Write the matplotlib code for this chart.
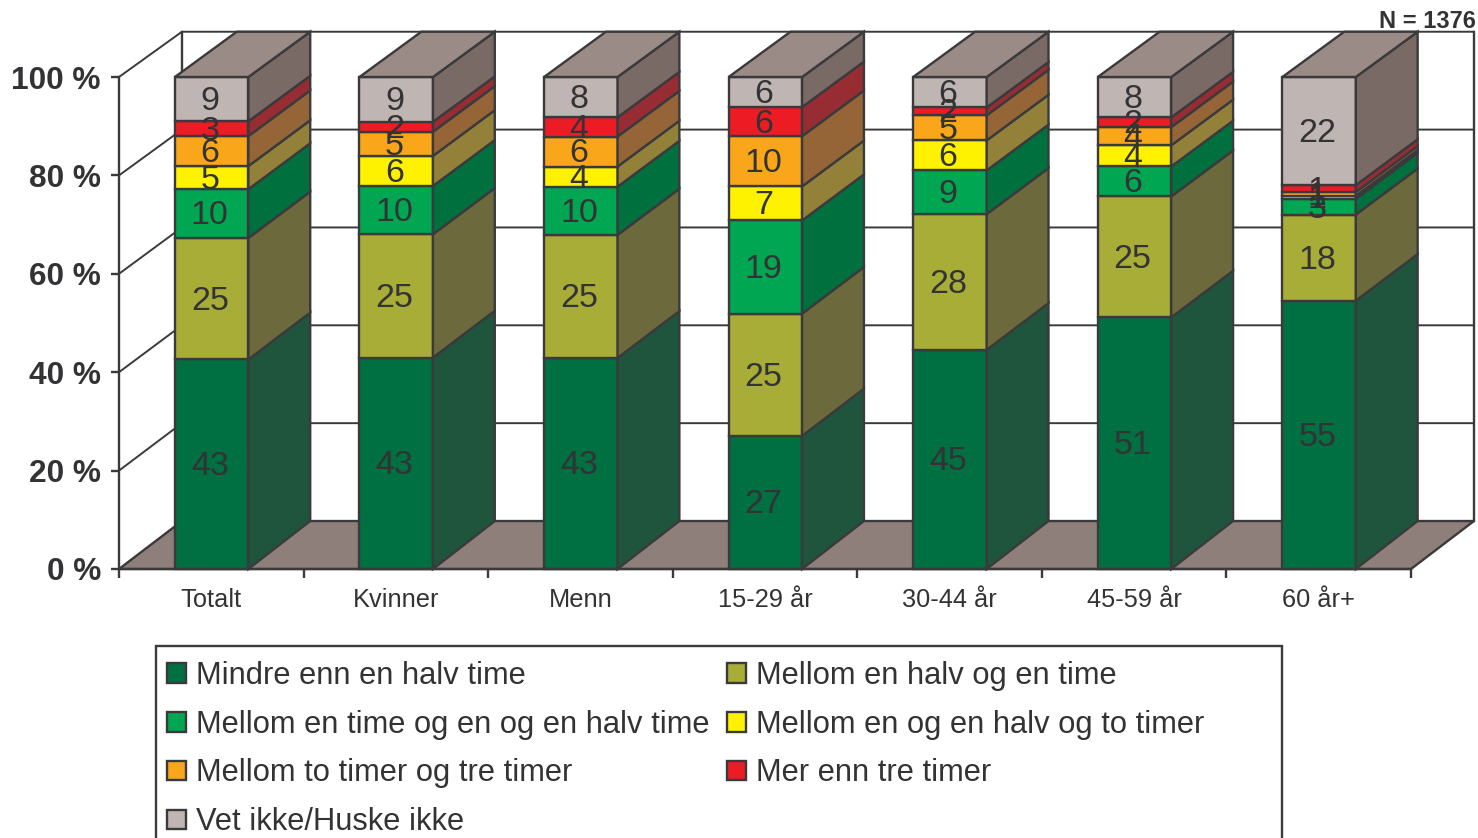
import matplotlib
matplotlib.use('Agg')
import matplotlib.pyplot as plt
from matplotlib.patches import Patch, Polygon, Rectangle
import numpy as np

plt.rcParams['font.family'] = ['Liberation Sans', 'DejaVu Sans']

categories = ['Totalt', 'Kvinner', 'Menn', '15-29 år', '30-44 år', '45-59 år', '60 år+']
series = ['Mindre enn en halv time', 'Mellom en halv og en time',
          'Mellom en time og en og en halv time', 'Mellom en og en halv og to timer',
          'Mellom to timer og tre timer', 'Mer enn tre timer', 'Vet ikke/Huske ikke']

# heights, the labels are these values rounded
under_halv = [42.6, 42.9, 42.9, 27.0, 44.6, 51.2, 54.6]
halv_en = [24.7, 25.0, 25.0, 24.8, 27.6, 24.6, 17.5]
en_halvannen = [9.9, 9.8, 9.8, 18.9, 8.9, 6.1, 3.2]
halvannen_to = [4.7, 6.1, 4.1, 6.9, 6.1, 4.3, 0.6]
to_tre = [6.1, 4.9, 6.1, 10.2, 5.1, 3.7, 0.8]
over_tre = [3.0, 2.0, 3.9, 5.9, 1.6, 2.0, 1.4]
vet_ikke = [9.0, 9.1, 8.2, 6.1, 6.2, 8.2, 22.0]
values = np.array([under_halv, halv_en, en_halvannen, halvannen_to, to_tre, over_tre, vet_ikke])

front_colors = ['#006F41', '#A8AD38', '#00A651', '#FFF200', '#FAA61A', '#ED1C24', '#BFB5B2']
side_colors = ['#20553D', '#6C693D', '#00703F', '#938139', '#956537', '#972D32', '#7A6A66']
top_color = '#9A8B86'
floor_color = '#8E7F7A'
line_color = '#3A3A3C'
text_color = '#333335'
lw = 1.7

# depth of the fake 3D box, in data units
dx = 0.341
bar_dx = 0.335
bar_w = 0.398
bar_left = 0.303


def depth(v):
    # back wall is a little shorter than the front
    return 9.75 - 0.0055*v


fig = plt.figure(figsize=(14.78, 8.38), dpi=100)
ax = fig.add_axes([119/1478, (838-569)/838, 1292/1478, 492/838])
ax.set_xlim(0, 7)
ax.set_ylim(0, 100)
ax.patch.set_visible(False)

# walls, floor and gridlines
ax.add_patch(Polygon([(0, 0), (7, 0), (7+dx, depth(0)), (dx, depth(0))], fc=floor_color, ec=line_color,
                     lw=lw, zorder=1, clip_on=False))
for v in range(20, 101, 20):
    ax.plot([0, dx, 7+dx], [v, v+depth(v), v+depth(v)], color=line_color, lw=1.4, zorder=1, clip_on=False)
ax.plot([dx, dx], [depth(0), 100+depth(100)], color=line_color, lw=lw, zorder=1, clip_on=False)
ax.plot([7+dx, 7+dx], [depth(0), 100+depth(100)], color=line_color, lw=lw, zorder=1, clip_on=False)

# 100 % stacked boxes
totals = values.sum(axis=0)
for i in range(len(categories)):
    x0 = i + bar_left
    x1 = x0 + bar_w
    bottom = 0
    for j in range(len(series)):
        h = values[j, i] / totals[i] * 100
        top = bottom + h
        ax.bar(x0, h, bar_w, bottom=bottom, align='edge', color=front_colors[j],
               edgecolor=line_color, lw=lw, zorder=3, clip_on=False)
        ax.add_patch(Polygon([(x1, bottom), (x1+bar_dx, bottom+depth(bottom)),
                              (x1+bar_dx, top+depth(top)), (x1, top)],
                             fc=side_colors[j], ec=line_color, lw=lw, zorder=3, clip_on=False))
        ax.text(x0 + bar_w/2 - 0.01, bottom + h/2 - 0.5, '%.0f' % values[j, i], ha='center', va='center',
                fontsize=24.5, color=text_color, zorder=6)
        bottom = top
    ax.add_patch(Polygon([(x0, 100), (x1, 100), (x1+bar_dx, 100+depth(100)), (x0+bar_dx, 100+depth(100))],
                         fc=top_color, ec=line_color, lw=lw, zorder=3, clip_on=False))

for s in ['top', 'right']:
    ax.spines[s].set_visible(False)
for s in ['left', 'bottom']:
    ax.spines[s].set_color(line_color)
    ax.spines[s].set_linewidth(lw)
    ax.spines[s].set_zorder(5)

ax.set_yticks(range(0, 101, 20))
ax.set_yticklabels(['%d %%' % v for v in range(0, 101, 20)], fontsize=22.8, fontweight='bold', color=text_color)
ax.tick_params(axis='y', length=6, width=lw, color=line_color, pad=7)
ax.set_xticks(range(8))
ax.set_xticklabels([])
ax.tick_params(axis='x', which='major', length=6.5, width=lw, color=line_color)
ax.set_xticks(np.arange(7) + 0.5, minor=True)
ax.set_xticklabels(categories, minor=True, fontsize=18.3, color=text_color)
ax.tick_params(axis='x', which='minor', length=0, pad=14)

fig.text(1476/1478, 1 - 22/838, 'N = 1376', ha='right', va='center', fontsize=17,
         fontweight='bold', color=text_color)

# legend box runs off the bottom of the figure and is wider than its content
fig.add_artist(Rectangle((156/1478, 1 - 846/838), (1282-156)/1478, 200/838, transform=fig.transFigure,
                         fc='white', ec=line_color, lw=lw))

# matplotlib fills legend columns first, so order the handles for that
order = [0, 2, 4, 6, 1, 3, 5]
handles = [Patch(fc=front_colors[k], ec=line_color, lw=lw) for k in order]
labels = [series[k] for k in order]
leg = fig.legend(handles, labels, ncol=2, loc='upper left', bbox_to_anchor=(153.5/1478, 1 - 647/838),
                 borderaxespad=0, fontsize=22.2, frameon=False, handlelength=0.6, handleheight=0.6,
                 handletextpad=0.33, labelspacing=0.61, columnspacing=0.58, borderpad=0.45,
                 labelcolor=text_color)

fig.savefig('out.png', dpi=100)
